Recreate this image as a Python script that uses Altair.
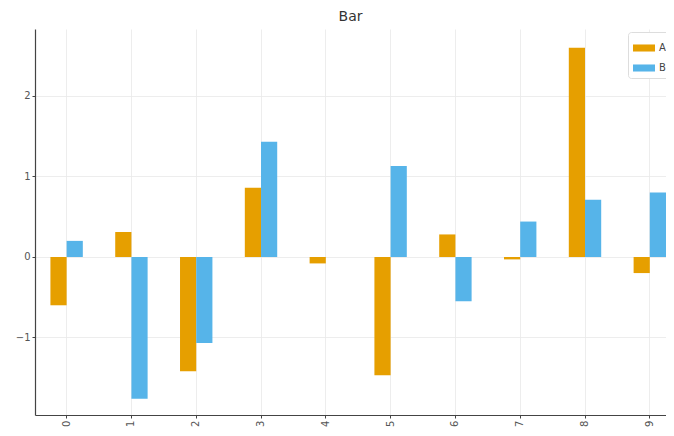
import altair as alt
import pandas as pd

categories = ["0", "1", "2", "3", "4", "5", "6", "7", "8", "9"]
series_a = [-0.60, 0.31, -1.42, 0.86, -0.08, -1.47, 0.28, -0.03, 2.60, -0.20]
series_b = [0.20, -1.76, -1.07, 1.43, 0.00, 1.13, -0.55, 0.44, 0.71, 0.80]
series_names = ["A", "B"]
series_colors = ["#E69F00", "#56B4E9"]
y_ticks = [-1, 0, 1, 2]

rows = []
for i, c in enumerate(categories):
    rows.append({"cat": c, "series": "A", "value": series_a[i]})
    rows.append({"cat": c, "series": "B", "value": series_b[i]})
df = pd.DataFrame(rows)

font = "DejaVu Sans"

chart = alt.Chart(df).mark_bar().encode(
    x=alt.X("cat:N", sort=categories, title=None,
            scale=alt.Scale(paddingInner=0.5, paddingOuter=0.119, align=1),
            axis=alt.Axis(labelAngle=270, grid=True, gridColor="#e8e8e8", gridWidth=0.8,
                          domainColor="#444444", domainWidth=1.2, tickColor="#444444",
                          tickSize=3, labelFontSize=10, labelColor="#555555",
                          labelFont=font, labelPadding=2)),
    xOffset=alt.XOffset("series:N", sort=series_names, scale=alt.Scale(paddingInner=0, paddingOuter=0)),
    y=alt.Y("value:Q", title=None,
            scale=alt.Scale(domain=[-1.963, 2.832], nice=False, zero=False),
            axis=alt.Axis(values=y_ticks, format="d", grid=True, gridColor="#e8e8e8", gridWidth=0.8,
                          domainColor="#444444", domainWidth=1.2, tickColor="#444444",
                          tickSize=3, labelFontSize=10, labelColor="#555555",
                          labelFont=font, labelPadding=2)),
    color=alt.Color("series:N", sort=series_names,
                    scale=alt.Scale(domain=series_names, range=series_colors),
                    legend=alt.Legend(title=None, orient="none", legendX=593, legendY=3,
                                      symbolType="M-1,-0.32L1,-0.32L1,0.32L-1,0.32Z",
                                      symbolSize=484, symbolStrokeWidth=0,
                                      labelFontSize=10, labelColor="#444444", labelFont=font,
                                      fillColor="white", strokeColor="#dddddd", padding=5,
                                      cornerRadius=3, rowPadding=4)),
).properties(
    width=631,
    height=386,
    background="white",
    title=alt.TitleParams("Bar", fontSize=14, font=font, fontWeight="normal", color="#333333", offset=5),
    autosize=alt.AutoSizeParams(type="none"),
    padding={"left": 27, "top": 21, "right": 0, "bottom": 13},
).configure_view(strokeWidth=0, stroke="transparent")

chart.save("out.html", embed_options={"renderer": "svg", "actions": False})
